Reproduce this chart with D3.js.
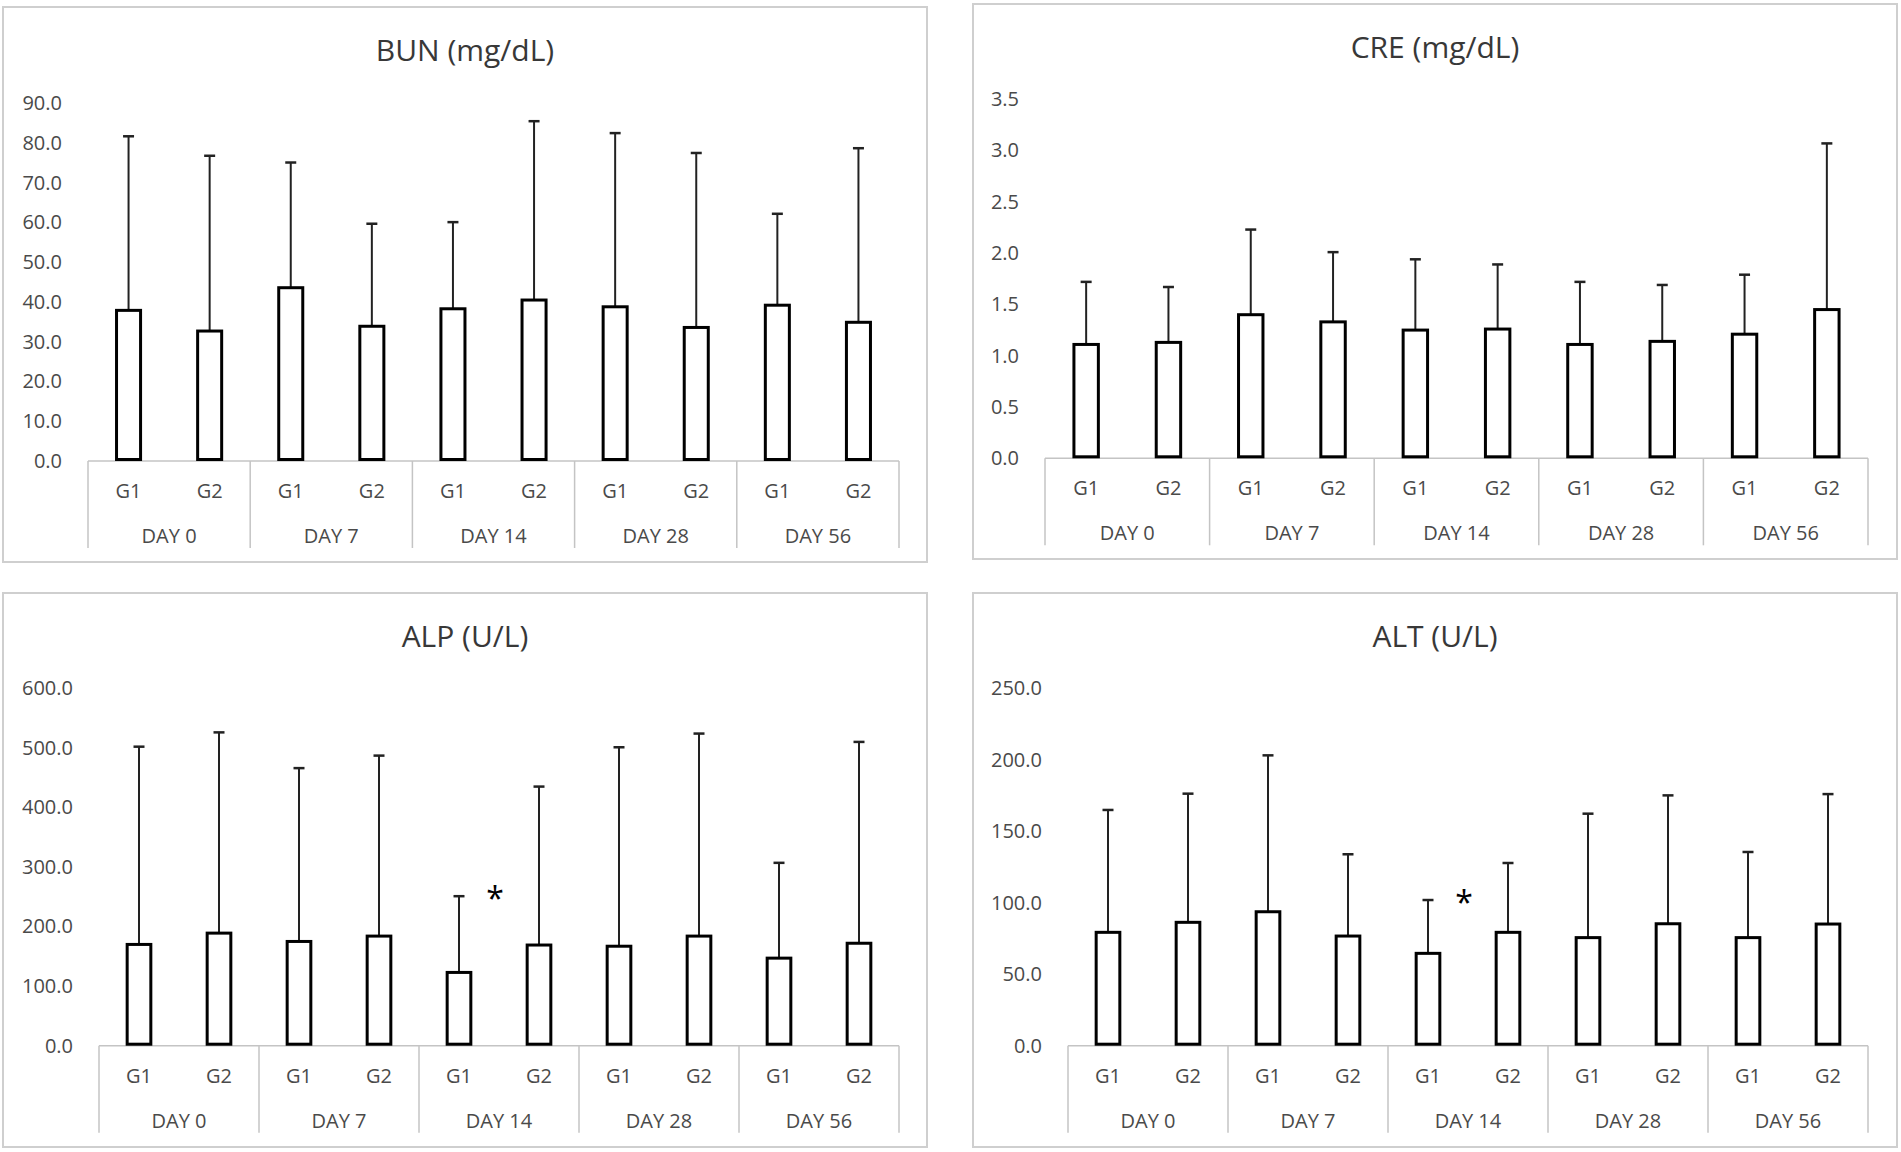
<!DOCTYPE html>
<meta charset="utf-8">
<style>
  body { margin: 0; background: #fff; }
  text { font-family: "Open Sans", "Noto Sans", sans-serif; }
</style>

<!-- Cargar d3.js. -->
<script src="https://d3js.org/d3.v7.min.js"></script>

<div id="my_dataviz"></div>

<script>
// Categorias del eje x (dos niveles).
var days = ["DAY 0", "DAY 7", "DAY 14", "DAY 28", "DAY 56"];
var groups = ["G1", "G2"];

// BUN (mg/dL): media y desviacion (barra de error superior).
var bunG1 = [37.9, 43.6, 38.3, 38.8, 39.2];
var bunG1Sd = [43.8, 31.5, 21.8, 43.7, 23.0];
var bunG2 = [32.7, 33.9, 40.5, 33.6, 34.9];
var bunG2Sd = [44.1, 25.8, 45.0, 43.9, 43.8];

// CRE (mg/dL).
var creG1 = [1.11, 1.40, 1.25, 1.11, 1.21];
var creG1Sd = [0.61, 0.83, 0.69, 0.61, 0.58];
var creG2 = [1.13, 1.33, 1.26, 1.14, 1.45];
var creG2Sd = [0.54, 0.68, 0.63, 0.55, 1.62];

// ALP (U/L).
var alpG1 = [170, 175, 123, 167, 147];
var alpG1Sd = [332, 291, 128, 334, 160];
var alpG2 = [189, 184, 169, 184, 172];
var alpG2Sd = [337, 303, 266, 340, 338];

// ALT (U/L).
var altG1 = [79.3, 93.7, 64.6, 75.6, 75.6];
var altG1Sd = [85.6, 109.4, 37.3, 86.7, 59.9];
var altG2 = [86.3, 76.7, 79.3, 85.3, 85.1];
var altG2Sd = [90.0, 57.2, 48.5, 89.8, 90.9];

// Ticks del eje y de cada grafico.
var bunTicks = [0, 10, 20, 30, 40, 50, 60, 70, 80, 90];
var creTicks = [0, 0.5, 1, 1.5, 2, 2.5, 3, 3.5];
var alpTicks = [0, 100, 200, 300, 400, 500, 600];
var altTicks = [0, 50, 100, 150, 200, 250];

// Dia con diferencia significativa (asterisco).
var alpStarDay = "DAY 14";
var altStarDay = "DAY 14";

var svg = d3.select("#my_dataviz")
            .append("svg")
            .attr("width", 1901)
            .attr("height", 1152);

// Posicion de cada panel en la pagina.
var panels = [
  {title: "BUN (mg/dL)", g1: bunG1, g1sd: bunG1Sd, g2: bunG2, g2sd: bunG2Sd, ticks: bunTicks, star: null,
   x: 3, y: 7, w: 924, h: 555, left: 88, right: 899, base: 461, top: 103.3},
  {title: "CRE (mg/dL)", g1: creG1, g1sd: creG1Sd, g2: creG2, g2sd: creG2Sd, ticks: creTicks, star: null,
   x: 973, y: 4, w: 924, h: 555, left: 1045, right: 1868, base: 458.3, top: 99.3},
  {title: "ALP (U/L)", g1: alpG1, g1sd: alpG1Sd, g2: alpG2, g2sd: alpG2Sd, ticks: alpTicks, star: alpStarDay,
   x: 3, y: 593, w: 924, h: 554, left: 99, right: 899, base: 1045.7, top: 688.3},
  {title: "ALT (U/L)", g1: altG1, g1sd: altG1Sd, g2: altG2, g2sd: altG2Sd, ticks: altTicks, star: altStarDay,
   x: 973, y: 593, w: 924, h: 554, left: 1068, right: 1868, base: 1045.7, top: 688.3}
];

panels.forEach(function(p) {
  var g = svg.append("g");

  // Marco del panel.
  g.append("rect")
   .attr("x", p.x).attr("y", p.y)
   .attr("width", p.w).attr("height", p.h)
   .attr("fill", "#fff")
   .attr("stroke", "#cfcfcf")
   .attr("stroke-width", 2);

  // Titulo.
  g.append("text")
   .attr("x", p.x + p.w / 2)
   .attr("y", p.y + 53.5)
   .attr("text-anchor", "middle")
   .attr("font-size", "30px")
   .attr("fill", "#383838")
   .text(p.title);

  // Filas de datos: una por barra.
  var rows = [];
  days.forEach(function(d, i) {
    rows.push({day: d, grp: "G1", key: d + "|G1", v: p.g1[i], sd: p.g1sd[i]});
    rows.push({day: d, grp: "G2", key: d + "|G2", v: p.g2[i], sd: p.g2sd[i]});
  });

  // Escalas.
  var x = d3.scaleBand()
            .domain(rows.map(function(r) { return r.key; }))
            .range([p.left, p.right])
            .paddingInner(2 / 3)
            .paddingOuter(1 / 3);

  var xDay = d3.scaleBand()
               .domain(days)
               .range([p.left, p.right]);

  var y = d3.scaleLinear()
            .domain([0, p.ticks[p.ticks.length - 1]])
            .range([p.base, p.top]);

  // Eje y: solo etiquetas.
  var yAxis = g.append("g")
               .attr("transform", "translate(" + (p.left - 26) + ",0)")
               .call(d3.axisLeft(y).tickValues(p.ticks).tickFormat(d3.format(".1f")).tickSize(0).tickPadding(0));
  yAxis.select(".domain").remove();
  yAxis.selectAll("text")
       .attr("font-size", "20px")
       .attr("font-family", "Open Sans")
       .attr("fill", "#4a4a4a");

  // Eje x de dos niveles.
  g.append("line")
   .attr("x1", p.left).attr("x2", p.right)
   .attr("y1", p.base).attr("y2", p.base)
   .attr("stroke", "#c4c4c4")
   .attr("stroke-width", 1.5);

  g.selectAll(".sep")
   .data(days.concat(["end"]))
   .enter()
   .append("line")
   .attr("x1", function(d, i) { return p.left + i * xDay.step(); })
   .attr("x2", function(d, i) { return p.left + i * xDay.step(); })
   .attr("y1", p.base)
   .attr("y2", p.base + 87)
   .attr("stroke", "#c4c4c4")
   .attr("stroke-width", 1.5);

  g.selectAll(".grp")
   .data(rows)
   .enter()
   .append("text")
   .attr("x", function(r) { return x(r.key) + x.bandwidth() / 2; })
   .attr("y", p.base + 37)
   .attr("text-anchor", "middle")
   .attr("font-size", "20px")
   .attr("fill", "#4a4a4a")
   .text(function(r) { return r.grp; });

  g.selectAll(".day")
   .data(days)
   .enter()
   .append("text")
   .attr("x", function(d) { return xDay(d) + xDay.bandwidth() / 2; })
   .attr("y", p.base + 82)
   .attr("text-anchor", "middle")
   .attr("font-size", "20px")
   .attr("fill", "#4a4a4a")
   .text(function(d) { return d; });

  // Barras de error (solo hacia arriba).
  g.selectAll(".err")
   .data(rows)
   .enter()
   .append("line")
   .attr("x1", function(r) { return x(r.key) + x.bandwidth() / 2; })
   .attr("x2", function(r) { return x(r.key) + x.bandwidth() / 2; })
   .attr("y1", function(r) { return y(r.v); })
   .attr("y2", function(r) { return y(r.v + r.sd); })
   .attr("stroke", "#222")
   .attr("stroke-width", 2);

  g.selectAll(".cap")
   .data(rows)
   .enter()
   .append("line")
   .attr("x1", function(r) { return x(r.key) + x.bandwidth() / 2 - 5.5; })
   .attr("x2", function(r) { return x(r.key) + x.bandwidth() / 2 + 5.5; })
   .attr("y1", function(r) { return y(r.v + r.sd); })
   .attr("y2", function(r) { return y(r.v + r.sd); })
   .attr("stroke", "#222")
   .attr("stroke-width", 2.5);

  // Barras.
  g.selectAll(".bar")
   .data(rows)
   .enter()
   .append("rect")
   .attr("x", function(r) { return x(r.key) + 1.5; })
   .attr("y", function(r) { return y(r.v); })
   .attr("width", x.bandwidth() - 3)
   .attr("height", function(r) { return p.base - y(r.v) - 1.5; })
   .attr("fill", "#fff")
   .attr("stroke", "#000")
   .attr("stroke-width", 3);

  // Asterisco de significancia junto a G1.
  if (p.star) {
    var r1 = rows.filter(function(r) { return r.day === p.star && r.grp === "G1"; })[0];
    g.append("text")
     .attr("x", x(r1.key) + x.bandwidth() / 2 + 0.45 * x.step())
     .attr("y", y(r1.v + r1.sd) + 14)
     .attr("text-anchor", "middle")
     .attr("font-size", "32px")
     .attr("fill", "#000")
     .text("*");
  }
});
</script>
